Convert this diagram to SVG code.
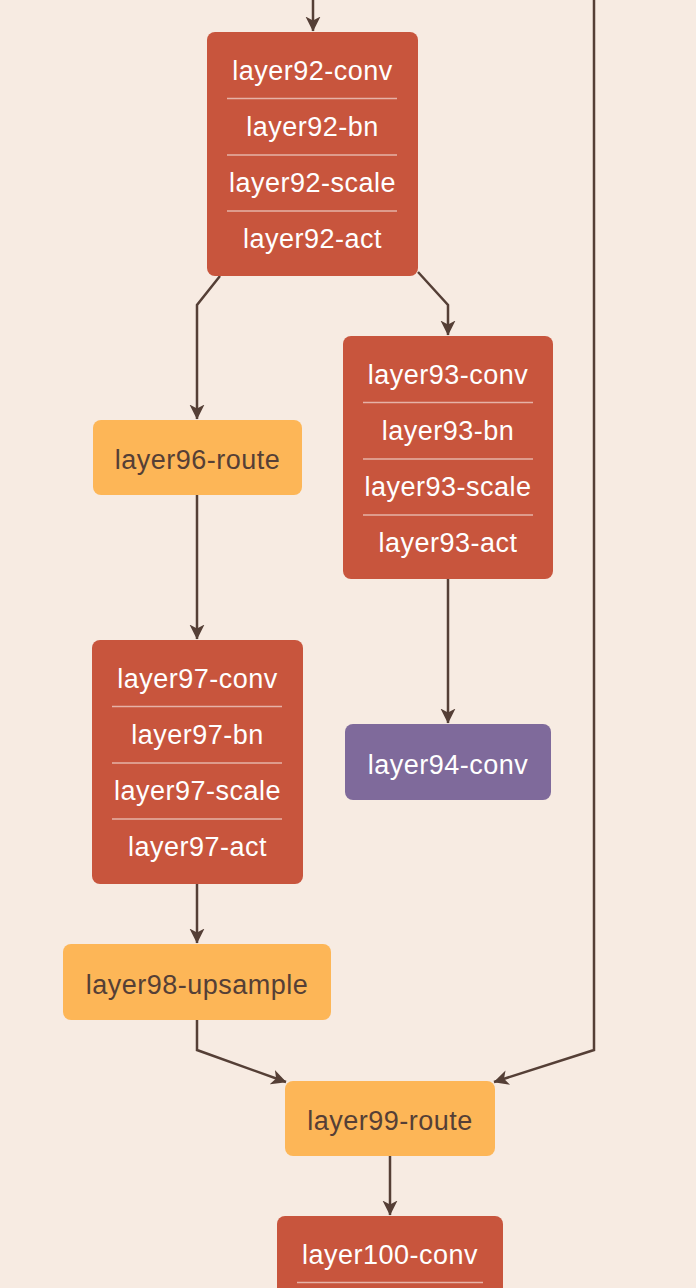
<svg xmlns="http://www.w3.org/2000/svg" width="696" height="1288" viewBox="0 0 696 1288">
  <style>
    .bg { fill: #F7EBE2; }
    .layer { fill: #C8553D; }
    .route { fill: #FDB657; }
    .head { fill: #7F6A9B; }
    .sep { stroke: #FFFFFF; stroke-opacity: 0.55; stroke-width: 1.5; }
    .label { font-size: 27px; letter-spacing: 0.5px; text-anchor: middle; }
    .light { fill: #FFFFFF; }
    .dark { fill: #553F36; }
    .edge { fill: none; stroke: #553F36; stroke-width: 2.5; stroke-linejoin: miter; }
  </style>
  <defs>
    <marker id="arrow" viewBox="0 0 15 16" refX="14.5" refY="8" markerWidth="15" markerHeight="16" markerUnits="userSpaceOnUse" orient="auto">
      <path d="M0,0.5 L15,8 L0,15.5 L4,8 Z" fill="#553F36"/>
    </marker>
  </defs>

  <rect class="bg" x="0" y="0" width="696" height="1288"/>

  <g id="connectors">
    <path class="edge" d="M313,0 L313,31" marker-end="url(#arrow)"/>
    <path class="edge" d="M220,276 L197,305 L197,419" marker-end="url(#arrow)"/>
    <path class="edge" d="M418,272 L448,305 L448,335" marker-end="url(#arrow)"/>
    <path class="edge" d="M448,579 L448,723" marker-end="url(#arrow)"/>
    <path class="edge" d="M197,495 L197,639" marker-end="url(#arrow)"/>
    <path class="edge" d="M197,884 L197,943" marker-end="url(#arrow)"/>
    <path class="edge" d="M197,1020 L197,1050 L286,1082" marker-end="url(#arrow)"/>
    <path class="edge" d="M594,0 L594,1050 L494,1082" marker-end="url(#arrow)"/>
    <path class="edge" d="M390,1156 L390,1215" marker-end="url(#arrow)"/>
  </g>

  <g font-family="Liberation Sans, Arimo, Arial, sans-serif">
  <g id="layer92">
    <rect class="layer" x="207" y="32" width="211" height="244" rx="8"/>
    <line class="sep" x1="227" y1="98.5" x2="397" y2="98.5"/>
    <line class="sep" x1="227" y1="155" x2="397" y2="155"/>
    <line class="sep" x1="227" y1="211" x2="397" y2="211"/>
    <text class="label light" x="312.5" y="80">layer92-conv</text>
    <text class="label light" x="312.5" y="136">layer92-bn</text>
    <text class="label light" x="312.5" y="192">layer92-scale</text>
    <text class="label light" x="312.5" y="248">layer92-act</text>
  </g>

  <g id="layer93">
    <rect class="layer" x="343" y="336" width="210" height="243" rx="8"/>
    <line class="sep" x1="363" y1="402.5" x2="533" y2="402.5"/>
    <line class="sep" x1="363" y1="459" x2="533" y2="459"/>
    <line class="sep" x1="363" y1="515" x2="533" y2="515"/>
    <text class="label light" x="448" y="384">layer93-conv</text>
    <text class="label light" x="448" y="440">layer93-bn</text>
    <text class="label light" x="448" y="496">layer93-scale</text>
    <text class="label light" x="448" y="552">layer93-act</text>
  </g>

  <g id="layer94">
    <rect class="head" x="345" y="724" width="206" height="76" rx="8"/>
    <text class="label light" x="448" y="774">layer94-conv</text>
  </g>

  <g id="layer96">
    <rect class="route" x="93" y="420" width="209" height="75" rx="8"/>
    <text class="label dark" x="197.5" y="469">layer96-route</text>
  </g>

  <g id="layer97">
    <rect class="layer" x="92" y="640" width="211" height="244" rx="8"/>
    <line class="sep" x1="112" y1="706.5" x2="282" y2="706.5"/>
    <line class="sep" x1="112" y1="763" x2="282" y2="763"/>
    <line class="sep" x1="112" y1="819" x2="282" y2="819"/>
    <text class="label light" x="197.5" y="688">layer97-conv</text>
    <text class="label light" x="197.5" y="744">layer97-bn</text>
    <text class="label light" x="197.5" y="800">layer97-scale</text>
    <text class="label light" x="197.5" y="856">layer97-act</text>
  </g>

  <g id="layer98">
    <rect class="route" x="63" y="944" width="268" height="76" rx="8"/>
    <text class="label dark" x="197" y="994">layer98-upsample</text>
  </g>

  <g id="layer99">
    <rect class="route" x="285" y="1081" width="210" height="75" rx="8"/>
    <text class="label dark" x="390" y="1130">layer99-route</text>
  </g>

  <g id="layer100">
    <rect class="layer" x="277" y="1216" width="226" height="90" rx="8"/>
    <line class="sep" x1="297" y1="1282.5" x2="483" y2="1282.5"/>
    <text class="label light" x="390" y="1264">layer100-conv</text>
  </g>
  </g>
</svg>
